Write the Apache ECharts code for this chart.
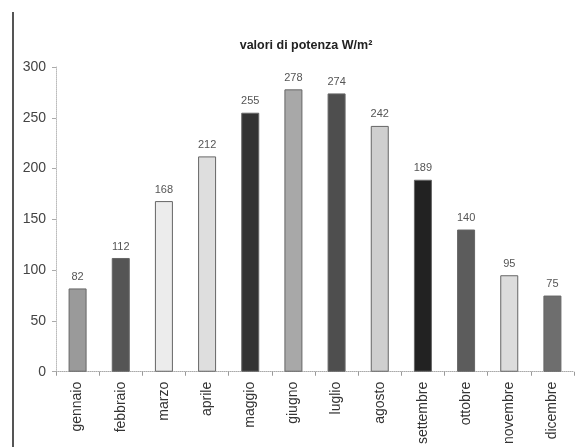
<!DOCTYPE html>
<html>
<head>
<meta charset="utf-8">
<script src="https://cdn.jsdelivr.net/npm/echarts@6/dist/echarts.min.js"></script>
<style>
  html, body { margin: 0; padding: 0; background: #fff; }
  #myChart { width: 585px; height: 447px; }
</style>
</head>
<body>
<div id="myChart"></div>
<script>
var mesi = ['gennaio', 'febbraio', 'marzo', 'aprile', 'maggio', 'giugno', 'luglio', 'agosto', 'settembre', 'ottobre', 'novembre', 'dicembre'];
var potenza = [82, 112, 168, 212, 255, 278, 274, 242, 189, 140, 95, 75];
var coloriBarre = ['#9a9a9a', '#555555', '#ececec', '#dedede', '#333333', '#a8a8a8', '#4e4e4e', '#cfcfcf', '#222222', '#5c5c5c', '#dcdcdc', '#6e6e6e'];
var yTicks = [0, 50, 100, 150, 200, 250, 300];

var myChart = echarts.init(document.getElementById('myChart'));
myChart.setOption({
  animation: false,
  textStyle: { fontFamily: 'Liberation Sans, Arial, sans-serif' },
  title: {
    text: 'valori di potenza W/m²',
    left: 301,
    textAlign: 'center',
    top: 34,
    textStyle: { fontSize: 12.5, fontWeight: 'bold', color: '#222' }
  },
  graphic: [{
    type: 'line',
    shape: { x1: 13, y1: 12, x2: 13, y2: 447 },
    style: { stroke: '#555', lineWidth: 2 }
  }],
  grid: { left: 56, right: 11, top: 67, bottom: 73 },
  xAxis: {
    type: 'category',
    data: mesi,
    axisLine: { lineStyle: { color: '#aaa', type: 'dotted' } },
    axisTick: { show: true, length: 4, lineStyle: { color: '#999' } },
    axisLabel: { rotate: 90, fontSize: 14, color: '#333', margin: 10 }
  },
  yAxis: {
    type: 'value',
    min: yTicks[0],
    max: yTicks[yTicks.length - 1],
    interval: 50,
    splitLine: { show: false },
    axisLine: { show: true, lineStyle: { color: '#bbb', type: 'dotted' } },
    axisTick: { show: true, length: 4, lineStyle: { color: '#aaa' } },
    axisLabel: { fontSize: 14, color: '#444', margin: 10 }
  },
  series: [{
    type: 'bar',
    barWidth: 18,
    data: potenza.map(function (v, i) {
      return { value: v, itemStyle: { color: coloriBarre[i] } };
    }),
    itemStyle: { borderColor: '#666', borderWidth: 1 },
    label: { show: true, position: 'top', distance: 6, fontSize: 11, color: '#555' }
  }]
});
</script>
</body>
</html>
